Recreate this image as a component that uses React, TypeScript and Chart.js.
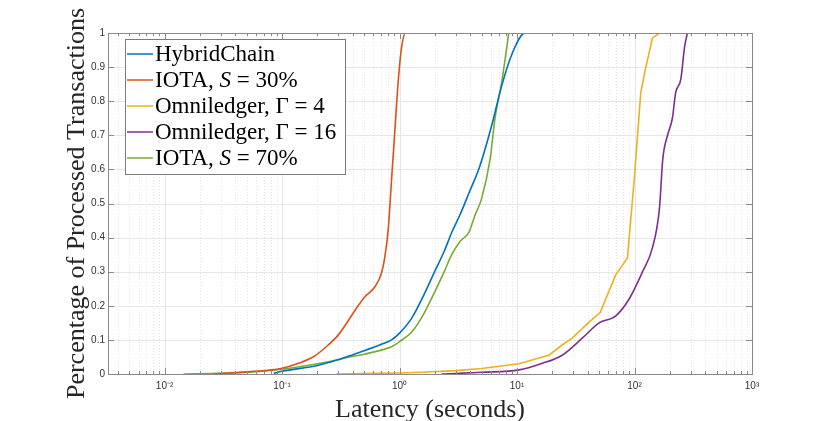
import React, { useEffect, useRef } from 'react';
import { Chart, registerables } from 'chart.js';

Chart.register(...registerables);

// series (latency in seconds, fraction of processed transactions)
const hybridX = [0.085, 0.1, 0.2, 0.3, 0.366, 0.5, 0.7, 0.855, 1.0, 1.27, 1.6, 1.99, 2.4, 2.78, 3.3, 3.89, 4.83, 6.1, 7.4, 9.1, 11.7, 15.7];
const hybridY = [0.002, 0.008, 0.025, 0.042, 0.052, 0.068, 0.087, 0.1, 0.12, 0.164, 0.23, 0.3, 0.36, 0.415, 0.47, 0.53, 0.61, 0.73, 0.845, 0.94, 1.0, 1.0];

const iota30X = [0.026, 0.04, 0.054, 0.098, 0.14, 0.188, 0.247, 0.3, 0.43, 0.505, 0.615, 0.7, 0.749, 0.8, 0.854, 0.912, 0.975, 1.04, 1.125, 2.0];
const iota30Y = [0, 0.004, 0.007, 0.016, 0.032, 0.052, 0.085, 0.114, 0.193, 0.226, 0.255, 0.295, 0.343, 0.421, 0.567, 0.713, 0.86, 0.957, 1.0, 1.0];

const omni4X = [0.29, 0.6, 1.0, 1.54, 3, 5, 10.4, 18.8, 24.2, 29.5, 41, 51, 69, 87, 100, 113, 124, 142, 163, 174];
const omni4Y = [0, 0.002, 0.003, 0.005, 0.01, 0.016, 0.03, 0.056, 0.085, 0.105, 0.152, 0.18, 0.29, 0.34, 0.58, 0.825, 0.895, 0.985, 1.0, 1.0];

const omni16X = [2.29, 5, 10.4, 16, 24.2, 35.9, 50, 69, 90, 117, 142, 163, 174, 191, 210, 224, 248, 267, 282];
const omni16Y = [0, 0.005, 0.012, 0.03, 0.055, 0.105, 0.15, 0.17, 0.22, 0.3, 0.37, 0.485, 0.63, 0.7, 0.75, 0.825, 0.865, 0.96, 1.0];

const iota70X = [0.0145, 0.03, 0.05, 0.1, 0.2, 0.3, 0.366, 0.5, 0.7, 0.855, 1.0, 1.27, 1.6, 1.99, 2.4, 2.78, 3.3, 3.89, 4.38, 5.0, 5.9, 6.5, 7.4, 8.2, 8.5];
const iota70Y = [0, 0.002, 0.005, 0.014, 0.03, 0.042, 0.049, 0.058, 0.07, 0.08, 0.095, 0.123, 0.175, 0.24, 0.3, 0.35, 0.39, 0.415, 0.465, 0.515, 0.63, 0.75, 0.855, 0.96, 1.0];

// _x_ marks italic (math) parts of a label
const seriesLabels = ['HybridChain', 'IOTA, _S_ = 30%', 'Omniledger, Γ = 4', 'Omniledger, Γ = 16', 'IOTA, _S_ = 70%'];
const seriesColors = ['#0072BD', '#D95319', '#EDB120', '#7E2F8E', '#77AC30'];
const seriesX = [hybridX, iota30X, omni4X, omni16X, iota70X];
const seriesY = [hybridY, iota30Y, omni4Y, omni16Y, iota70Y];
const seriesSmooth = [true, true, false, true, true];

const xTickValues = [0.01, 0.1, 1, 10, 100, 1000];
const xTickLabels = ['10⁻²', '10⁻¹', '10⁰', '10¹', '10²', '10³'];
const yTickValues = [0, 0.1, 0.2, 0.3, 0.4, 0.5, 0.6, 0.7, 0.8, 0.9, 1];
const yTickLabels = ['0', '0.1', '0.2', '0.3', '0.4', '0.5', '0.6', '0.7', '0.8', '0.9', '1'];

const xTitle = 'Latency (seconds)';
const yTitle = 'Percentage of Processed Transactions';

const X_MIN = 0.0033;
const X_MAX = 1000;

const AXIS_COLOR = '#8a8a8a';
const SERIF = '"Liberation Serif", "Times New Roman", serif';

const framePlugin = {
	id: 'frame',
	beforeDatasetsDraw(chart: any) {
		const { ctx, chartArea: a, scales } = chart;
		const xs = scales.x;
		const ys = scales.y;
		ctx.save();
		ctx.lineWidth = 1;
		// minor vertical grid (dotted)
		ctx.strokeStyle = '#e4e4e4';
		ctx.setLineDash([1, 2]);
		for (let e = -3; e <= 2; e++) {
			for (let k = 2; k <= 9; k++) {
				const v = k * Math.pow(10, e);
				if (v < X_MIN || v > X_MAX) continue;
				const px = Math.round(xs.getPixelForValue(v)) + 0.5;
				ctx.beginPath();
				ctx.moveTo(px, a.top);
				ctx.lineTo(px, a.bottom);
				ctx.stroke();
			}
		}
		ctx.setLineDash([]);
		// major grid
		ctx.strokeStyle = '#e6e6e6';
		xTickValues.forEach((v) => {
			const px = Math.round(xs.getPixelForValue(v)) + 0.5;
			ctx.beginPath();
			ctx.moveTo(px, a.top);
			ctx.lineTo(px, a.bottom);
			ctx.stroke();
		});
		yTickValues.forEach((v) => {
			const py = Math.round(ys.getPixelForValue(v)) + 0.5;
			ctx.beginPath();
			ctx.moveTo(a.left, py);
			ctx.lineTo(a.right, py);
			ctx.stroke();
		});
		ctx.restore();
	},
	afterDraw(chart: any) {
		const { ctx, chartArea: a, scales } = chart;
		const xs = scales.x;
		const ys = scales.y;
		ctx.save();
		ctx.lineWidth = 1;
		ctx.strokeStyle = AXIS_COLOR;
		// box
		ctx.strokeRect(Math.round(a.left) + 0.5, Math.round(a.top) + 0.5, Math.round(a.right - a.left), Math.round(a.bottom - a.top));
		// ticks, pointing inwards
		const tick = (x1: number, y1: number, x2: number, y2: number) => {
			ctx.beginPath();
			ctx.moveTo(x1, y1);
			ctx.lineTo(x2, y2);
			ctx.stroke();
		};
		for (let e = -3; e <= 2; e++) {
			for (let k = 1; k <= 9; k++) {
				const v = k * Math.pow(10, e);
				if (v < X_MIN || v > X_MAX) continue;
				const len = k === 1 ? 6 : 3;
				const px = Math.round(xs.getPixelForValue(v)) + 0.5;
				tick(px, a.bottom, px, a.bottom - len);
				tick(px, a.top, px, a.top + len);
			}
		}
		yTickValues.forEach((v) => {
			const py = Math.round(ys.getPixelForValue(v)) + 0.5;
			tick(a.left, py, a.left + 6, py);
			tick(a.right, py, a.right - 6, py);
		});

		// axis titles
		ctx.fillStyle = '#262626';
		ctx.font = `26px ${SERIF}`;
		ctx.textAlign = 'center';
		ctx.textBaseline = 'alphabetic';
		ctx.fillText(xTitle, (a.left + a.right) / 2, 417);
		ctx.save();
		ctx.translate(84, (a.top + a.bottom) / 2);
		ctx.rotate(-Math.PI / 2);
		ctx.fillText(yTitle, 0, 0);
		ctx.restore();

		// legend
		const boxL = a.left + 17;
		const boxT = a.top + 6;
		const boxW = 220;
		const boxH = 135;
		ctx.fillStyle = '#ffffff';
		ctx.fillRect(boxL, boxT, boxW, boxH);
		ctx.strokeStyle = '#7a7a7a';
		ctx.strokeRect(boxL + 0.5, boxT + 0.5, boxW, boxH);
		ctx.textAlign = 'left';
		ctx.textBaseline = 'middle';
		seriesLabels.forEach((label, i) => {
			const cy = boxT + 15 + i * 26;
			ctx.strokeStyle = seriesColors[i];
			ctx.lineWidth = 1.5;
			tick(boxL + 2, cy, boxL + 28, cy);
			let tx = boxL + 30;
			label.split('_').forEach((part, j) => {
				ctx.font = `${j % 2 === 1 ? 'italic ' : ''}23px ${SERIF}`;
				ctx.fillStyle = '#000000';
				ctx.fillText(part, tx, cy + 1);
				tx += ctx.measureText(part).width;
			});
		});
		ctx.restore();
	},
};

const App: React.FC = () => {
	const canvasRef = useRef<HTMLCanvasElement | null>(null);
	const chartRef = useRef<Chart | null>(null);

	useEffect(() => {
		if (!canvasRef.current) return;
		const ctx = canvasRef.current.getContext('2d');
		if (!ctx) return;

		const datasets = seriesLabels.map((label, i) => ({
			label,
			data: seriesX[i].map((x, j) => ({ x, y: seriesY[i][j] })),
			borderColor: seriesColors[i],
			backgroundColor: seriesColors[i],
			borderWidth: 1.6,
			pointRadius: 0,
			fill: false,
			cubicInterpolationMode: seriesSmooth[i] ? ('monotone' as const) : ('default' as const),
			tension: 0,
		}));

		const tickFont = { family: '"Liberation Sans", Arial, sans-serif', size: 10 };

		chartRef.current = new Chart(ctx, {
			type: 'line',
			data: { datasets },
			plugins: [framePlugin],
			options: {
				responsive: false,
				animation: false,
				layout: { padding: { left: 0, right: 78, top: 33, bottom: 0 } },
				plugins: {
					legend: { display: false },
					tooltip: { enabled: false },
				},
				scales: {
					x: {
						type: 'logarithmic',
						min: X_MIN,
						max: X_MAX,
						grid: { display: false, drawTicks: false },
						border: { display: false },
						afterBuildTicks: (scale: any) => {
							scale.ticks = xTickValues.map((value) => ({ value }));
						},
						afterFit: (scale: any) => {
							scale.height = 47;
						},
						ticks: {
							autoSkip: false,
							maxRotation: 0,
							padding: 6,
							color: '#333333',
							font: tickFont,
							callback: (_v: any, index: number) => xTickLabels[index],
						},
					},
					y: {
						type: 'linear',
						min: 0,
						max: 1,
						grid: { display: false, drawTicks: false },
						border: { display: false },
						afterBuildTicks: (scale: any) => {
							scale.ticks = yTickValues.map((value) => ({ value }));
						},
						afterFit: (scale: any) => {
							scale.width = 108;
						},
						ticks: {
							autoSkip: false,
							padding: 3,
							color: '#333333',
							font: tickFont,
							callback: (_v: any, index: number) => yTickLabels[index],
						},
					},
				},
			},
		} as any);

		return () => {
			if (chartRef.current) {
				chartRef.current.destroy();
				chartRef.current = null;
			}
		};
	}, []);

	return (
		<div style={{ position: 'fixed', left: 0, top: 0, width: 830, height: 421, background: '#ffffff' }}>
			<canvas ref={canvasRef} width={830} height={421} />
		</div>
	);
};

export default App;
